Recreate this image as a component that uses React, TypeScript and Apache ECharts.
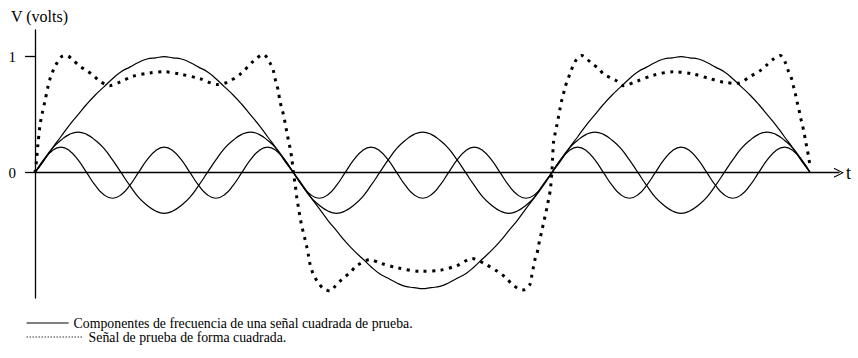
import { useEffect, useRef } from "react";
import * as echarts from "echarts";

// Phase samples (degrees) shared by the three harmonic components
const phase = [
  0, 6, 12, 18, 24, 30, 36, 42, 48, 54, 60, 66, 72, 78, 84, 90, 96, 102, 108, 114,
  120, 126, 132, 138, 144, 150, 156, 162, 168, 174, 180, 186, 192, 198, 204, 210,
  216, 222, 228, 234, 240, 246, 252, 258, 264, 270, 276, 282, 288, 294, 300, 306,
  312, 318, 324, 330, 336, 342, 348, 354, 360, 366, 372, 378, 384, 390, 396, 402,
  408, 414, 420, 426, 432, 438, 444, 450, 456, 462, 468, 474, 480, 486, 492, 498,
  504, 510, 516, 522, 528, 534, 540,
];

// Fundamental component (V)
const fundamental = [
  0, 0.1, 0.21, 0.31, 0.41, 0.5, 0.59, 0.67, 0.74, 0.81, 0.87, 0.91, 0.95, 0.98, 0.99, 1.0,
  0.99, 0.98, 0.95, 0.91, 0.87, 0.81, 0.74, 0.67, 0.59, 0.5, 0.41, 0.31, 0.21, 0.1, 0,
  -0.1, -0.21, -0.31, -0.41, -0.5, -0.59, -0.67, -0.74, -0.81, -0.87, -0.91, -0.95, -0.98,
  -0.99, -1.0, -0.99, -0.98, -0.95, -0.91, -0.87, -0.81, -0.74, -0.67, -0.59, -0.5, -0.41,
  -0.31, -0.21, -0.1, 0,
  0.1, 0.21, 0.31, 0.41, 0.5, 0.59, 0.67, 0.74, 0.81, 0.87, 0.91, 0.95, 0.98, 0.99, 1.0,
  0.99, 0.98, 0.95, 0.91, 0.87, 0.81, 0.74, 0.67, 0.59, 0.5, 0.41, 0.31, 0.21, 0.1, 0,
];

// Third harmonic (V)
const thirdHarmonic = [
  0, 0.11, 0.21, 0.28, 0.33, 0.35, 0.33, 0.28, 0.21, 0.11, 0, -0.11, -0.21, -0.28, -0.33, -0.35, -0.33, -0.28, -0.21, -0.11,
  0, 0.11, 0.21, 0.28, 0.33, 0.35, 0.33, 0.28, 0.21, 0.11, 0, -0.11, -0.21, -0.28, -0.33, -0.35, -0.33, -0.28, -0.21, -0.11,
  0, 0.11, 0.21, 0.28, 0.33, 0.35, 0.33, 0.28, 0.21, 0.11, 0, -0.11, -0.21, -0.28, -0.33, -0.35, -0.33, -0.28, -0.21, -0.11,
  0, 0.11, 0.21, 0.28, 0.33, 0.35, 0.33, 0.28, 0.21, 0.11, 0, -0.11, -0.21, -0.28, -0.33, -0.35, -0.33, -0.28, -0.21, -0.11,
  0, 0.11, 0.21, 0.28, 0.33, 0.35, 0.33, 0.28, 0.21, 0.11, 0,
];

// Fifth harmonic (V)
const fifthHarmonic = [
  0, 0.11, 0.19, 0.22, 0.19, 0.11, 0, -0.11, -0.19, -0.22, -0.19, -0.11,
  0, 0.11, 0.19, 0.22, 0.19, 0.11, 0, -0.11, -0.19, -0.22, -0.19, -0.11,
  0, 0.11, 0.19, 0.22, 0.19, 0.11, 0, -0.11, -0.19, -0.22, -0.19, -0.11,
  0, 0.11, 0.19, 0.22, 0.19, 0.11, 0, -0.11, -0.19, -0.22, -0.19, -0.11,
  0, 0.11, 0.19, 0.22, 0.19, 0.11, 0, -0.11, -0.19, -0.22, -0.19, -0.11,
  0, 0.11, 0.19, 0.22, 0.19, 0.11, 0, -0.11, -0.19, -0.22, -0.19, -0.11,
  0, 0.11, 0.19, 0.22, 0.19, 0.11, 0, -0.11, -0.19, -0.22, -0.19, -0.11,
  0, 0.11, 0.19, 0.22, 0.19, 0.11, 0,
];

// Square test signal, first (positive) half cycle
const squareT1 = [
  0, 1, 2, 3.5, 5, 7, 9, 11, 13, 15, 18.5, 22, 26.5, 31, 36, 40.5, 45, 52, 59, 68,
  80, 90, 101, 115, 127, 134, 143, 152, 159, 163.5, 166, 167.2, 168.4, 169.5, 170.7,
  172, 173, 174.2, 175.4, 176.5, 177.7, 178.9, 180,
];
const squareV1 = [
  0, 0.1, 0.24, 0.41, 0.51, 0.62, 0.74, 0.83, 0.89, 0.94, 1.0, 1.01, 0.97, 0.92, 0.88,
  0.84, 0.79, 0.75, 0.78, 0.83, 0.86, 0.87, 0.85, 0.81, 0.76, 0.78, 0.85, 0.96, 1.02,
  0.95, 0.88, 0.81, 0.76, 0.7, 0.61, 0.55, 0.5, 0.43, 0.35, 0.28, 0.21, 0.12, 0,
];

// Second (negative) half cycle
const squareT2 = [
  181.2, 182.4, 183.5, 184.7, 186, 188, 189.3, 190.4, 191.6, 194, 197.4, 201, 205.6,
  209, 213.7, 219.5, 224.2, 233.5, 240.5, 252.5, 268.5, 282.5, 294, 304.5, 312.5, 322,
  327.5, 332.2, 336.8, 340.2, 344.9, 346.1, 347.2, 348.4, 349.6, 350.7, 351.9, 353.1,
  354.2, 355.4, 356.6, 357.7, 358.9, 360,
];
const squareV2 = [
  -0.1, -0.22, -0.3, -0.39, -0.47, -0.57, -0.64, -0.71, -0.79, -0.88, -0.95, -1.0, -1.02,
  -0.98, -0.92, -0.86, -0.8, -0.75, -0.78, -0.82, -0.85, -0.84, -0.8, -0.74, -0.78, -0.85,
  -0.9, -0.96, -1.0, -1.01, -0.96, -0.88, -0.81, -0.74, -0.7, -0.63, -0.56, -0.5, -0.43,
  -0.37, -0.3, -0.23, -0.15, 0,
];

// Third (positive) half cycle
const squareT3 = [
  360.5, 361.2, 362.3, 363.5, 364.6, 365.8, 367, 368.1, 369.3, 371.6, 372.8, 375.1,
  377.4, 380.9, 384.4, 387.9, 392.5, 396, 400.7, 405.3, 409.7, 419.5, 430.6, 444.6,
  458.5, 470.3, 479.4, 489.2, 498.2, 505.2, 509.8, 514.4, 519.1, 522.6, 524.9, 527.3,
  528.4, 529.6, 530.8, 531.9, 533.1, 534.2, 535.4, 536.5, 537.7, 538.8, 540,
];
const squareV3 = [
  0.12, 0.27, 0.34, 0.41, 0.48, 0.56, 0.63, 0.68, 0.74, 0.82, 0.86, 0.93, 0.98, 1.01,
  0.98, 0.94, 0.9, 0.85, 0.82, 0.79, 0.75, 0.79, 0.84, 0.87, 0.85, 0.81, 0.78, 0.77,
  0.83, 0.88, 0.93, 0.98, 1.01, 0.95, 0.87, 0.8, 0.74, 0.68, 0.61, 0.56, 0.48, 0.43,
  0.36, 0.29, 0.21, 0.14, 0.04,
];

const yTickValues = [0, 1];

const componentsLabel = "Componentes de frecuencia de una señal cuadrada de prueba.";
const squareLabel = "Señal de prueba de forma cuadrada.";
const yAxisTitle = "V (volts)";
const xAxisTitle = "t";

const INK = "#000";
const SERIF = "'Liberation Serif', 'Times New Roman', serif";

const pairs = (xs: number[], ys: number[]) => xs.map((x, i) => [x, ys[i]]);

// Legend row: line sample only (the marker dot is hidden)
const legendRow = (name: string, top: number, width: number, lineStyle: object) => ({
  data: [
    {
      name,
      lineStyle: { color: INK, ...lineStyle },
      itemStyle: { color: "rgba(0,0,0,0)", borderWidth: 0, opacity: 0 },
    },
  ],
  left: 26,
  top,
  padding: 0,
  itemWidth: width,
  itemHeight: 14,
  selectedMode: false,
  textStyle: { fontFamily: SERIF, fontSize: 13.8, color: INK },
});

export default function App() {
  const ref = useRef<HTMLDivElement>(null);

  useEffect(() => {
    if (!ref.current) return;
    const chart = echarts.init(ref.current, undefined, { renderer: "svg" });

    const componentLine = (id: string, values: number[]) => ({
      id,
      type: "line",
      name: componentsLabel,
      data: pairs(phase, values),
      symbol: "none",
      smooth: 0.5,
      silent: true,
      itemStyle: { color: INK },
      lineStyle: { color: INK, width: 1.2 },
      z: 3,
    });

    chart.setOption({
      animation: false,
      backgroundColor: "#fff",
      title: {
        text: yAxisTitle,
        left: 6,
        top: 3,
        textStyle: { fontFamily: SERIF, fontSize: 16, fontWeight: "normal", color: INK },
      },
      legend: [
        legendRow(componentsLabel, 316, 42, { width: 1.2, type: "solid" }),
        legendRow(squareLabel, 330, 57, { width: 1.2, type: [1.2, 1.8] }),
      ],
      grid: { left: 35, right: 19, top: 30, bottom: 60, outerBoundsMode: "none" },
      xAxis: {
        type: "value",
        min: 0,
        max: 560,
        name: xAxisTitle,
        nameLocation: "end",
        nameGap: 7,
        nameTextStyle: { fontFamily: SERIF, fontSize: 18, color: INK, verticalAlign: "middle" },
        axisLine: {
          onZero: true,
          lineStyle: { color: INK, width: 1.3 },
          symbol: ["none", "path://M0,10 L5,0 L10,10 L8.8,10 L5,2.2 L1.2,10 Z"],
          symbolSize: [12, 10],
        },
        axisTick: { show: false },
        axisLabel: { show: false },
        splitLine: { show: false },
      },
      yAxis: {
        type: "value",
        min: -1.08,
        max: 1.23,
        axisLine: { show: true, lineStyle: { color: INK, width: 1.3 } },
        axisTick: {
          show: true,
          customValues: yTickValues,
          length: 10,
          lineStyle: { color: INK, width: 1.3 },
        },
        axisLabel: {
          customValues: yTickValues,
          margin: 19,
          fontFamily: SERIF,
          fontSize: 15,
          color: INK,
        },
        splitLine: { show: false },
      },
      series: [
        componentLine("fundamental", fundamental),
        componentLine("third", thirdHarmonic),
        componentLine("fifth", fifthHarmonic),
        {
          id: "square",
          type: "line",
          name: squareLabel,
          data: pairs(
            [...squareT1, ...squareT2, ...squareT3],
            [...squareV1, ...squareV2, ...squareV3]
          ),
          symbol: "none",
          smooth: 0.3,
          silent: true,
          itemStyle: { color: INK },
          lineStyle: { color: INK, width: 3, type: [3, 5.5], cap: "butt" },
          z: 4,
        },
      ],
    });

    return () => chart.dispose();
  }, []);

  return (
    <div
      ref={ref}
      style={{ position: "absolute", left: 0, top: 0, width: 858, height: 358, background: "#fff" }}
    />
  );
}
